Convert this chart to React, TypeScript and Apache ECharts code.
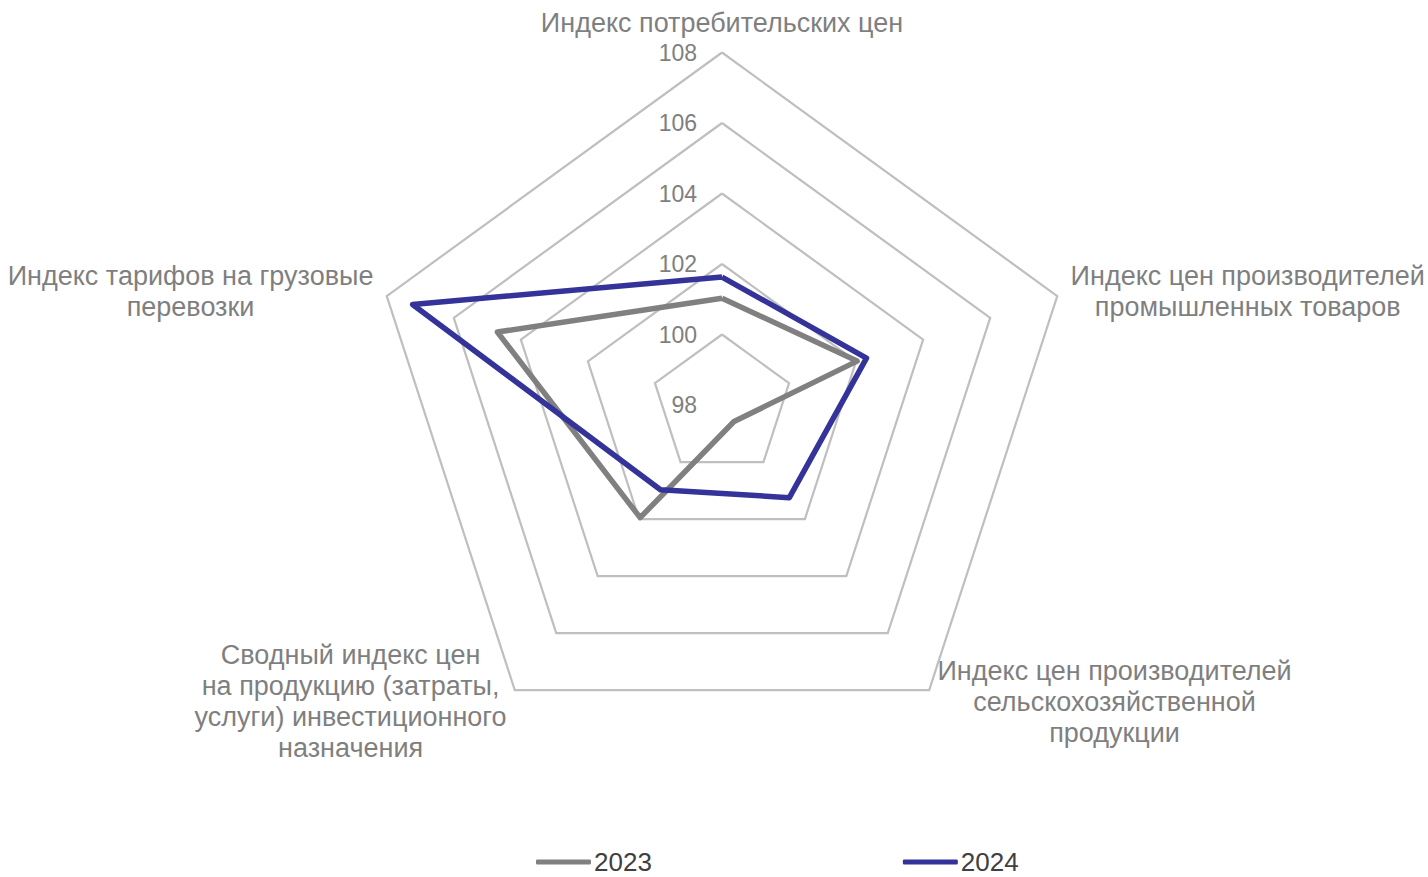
import React, { useEffect, useRef } from "react";
import * as echarts from "echarts";

const indicatorNames = [
  "Индекс потребительских цен",
  "Индекс тарифов на грузовые\nперевозки",
  "Сводный индекс цен\nна продукцию (затраты,\nуслуги) инвестиционного\nназначения",
  "Индекс цен производителей\nсельскохозяйственной\nпродукции",
  "Индекс цен производителей\nпромышленных товаров",
];
const seriesNames = ["2023", "2024"];
const values2023 = [101.03, 104.7, 101.95, 98.58, 102.03];
const values2024 = [101.63, 107.23, 100.97, 101.25, 102.31];
const axisMin = 98;
const axisMax = 108;
const axisSplits = 5;

const FONT = "'Liberation Sans', Arial, sans-serif";

export default function App() {
  const ref = useRef<HTMLDivElement>(null);
  useEffect(() => {
    document.body.style.margin = "0";
    const chart = echarts.init(ref.current!, null, { renderer: "svg" });
    chart.setOption({
      animation: false,
      backgroundColor: "#ffffff",
      textStyle: { fontFamily: FONT },
      legend: {
        left: 531,
        top: 844,
        itemGap: 251,
        itemWidth: 55,
        itemHeight: 5,
        icon: "roundRect",
        textStyle: {
          fontSize: 26,
          color: "#404040",
          fontFamily: FONT,
          padding: [0, 0, 0, -2],
        },
        data: seriesNames,
      },
      radar: {
        center: [722, 405],
        radius: 352.5,
        startAngle: 90,
        shape: "polygon",
        splitNumber: axisSplits,
        nameGap: 14,
        axisName: {
          color: "#7f7f7f",
          fontSize: 27,
          fontFamily: FONT,
          formatter: (name: string) =>
            name
              .split("\n")
              .map((l) => "{c|" + l + "}")
              .join("\n"),
          rich: {
            c: {
              align: "center",
              fontSize: 27,
              lineHeight: 31,
              color: "#7f7f7f",
              fontFamily: FONT,
            },
          },
        },
        axisLine: { show: false },
        axisTick: { show: false },
        axisLabel: { show: false },
        splitArea: { show: false },
        splitLine: { lineStyle: { color: "#bfbfbf", width: 2.2 } },
        indicator: indicatorNames.map((n, i) => ({
          name: n,
          min: axisMin,
          max: axisMax,
          axisLabel:
            i === 0
              ? {
                  show: true,
                  fontSize: 23,
                  color: "#7f7f7f",
                  fontFamily: FONT,
                  margin: 25,
                }
              : { show: false },
        })),
      },
      series: [
        {
          type: "radar",
          symbol: "none",
          data: [
            {
              name: seriesNames[0],
              value: values2023,
              lineStyle: { color: "#808080", width: 5.5 },
              itemStyle: { color: "#808080" },
            },
            {
              name: seriesNames[1],
              value: values2024,
              lineStyle: { color: "#333399", width: 5.5 },
              itemStyle: { color: "#333399" },
            },
          ],
        },
      ],
    });
    return () => chart.dispose();
  }, []);
  return <div ref={ref} style={{ width: 1428, height: 877 }} />;
}
